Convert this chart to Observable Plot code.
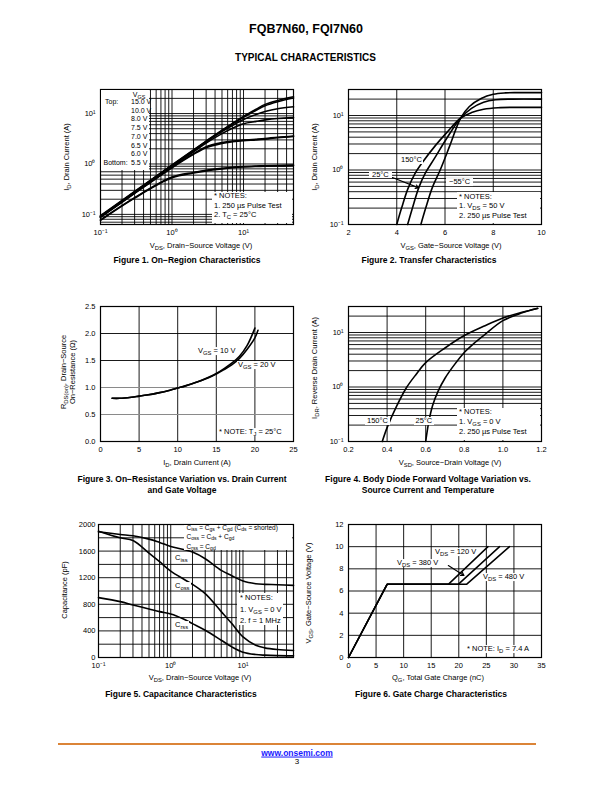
<!DOCTYPE html>
<html><head><meta charset="utf-8">
<script src="https://cdn.jsdelivr.net/npm/d3@7"></script>
<script src="https://cdn.jsdelivr.net/npm/@observablehq/plot@0.6"></script>
<style>
html,body{margin:0;padding:0;background:#fff;}
#page{position:relative;width:612px;height:792px;overflow:hidden;font-family:"Liberation Sans",Arial,Helvetica,sans-serif;color:#000;}
.t{position:absolute;white-space:nowrap;line-height:1.05;}
.t sub{font-size:0.78em;vertical-align:-0.28em;line-height:0;}
.box{position:absolute;background:#fff;}
</style></head>
<body><div id="page"></div>
<script>
// ---------------- DATA ----------------
// Figure 1: On-Region Characteristics (VDS in V, ID in A)
const fig1Vds = [0.1,0.3,1,2,3,5,7,10,15,20,30,50];
const fig1Legend = ["15.0 V","10.0 V","8.0 V","7.5 V","7.0 V","6.5 V","6.0 V","5.5 V"];
const fig1Id15 = [0.094,0.285,0.96,1.9,2.85,4.7,6.4,8.8,12.2,15.2,18.2,21.5];
const fig1Id10 = [0.092,0.28,0.94,1.87,2.8,4.6,6.2,8.4,11.6,14.3,17.2,20.3];
const fig1Id8  = [0.09,0.275,0.92,1.82,2.75,4.4,5.8,7.6,9.6,11.0,12.5,13.6];
const fig1Id75 = [0.09,0.27,0.9,1.75,2.6,4.0,5.1,6.3,7.0,7.5,8.0,8.3];
const fig1Id7  = [0.088,0.265,0.86,1.6,2.2,2.65,2.85,2.98,3.1,3.2,3.4,3.6];
const fig1Id65 = [0.087,0.26,0.84,1.55,2.1,2.55,2.75,2.9,3.0,3.1,3.3,3.5];
const fig1Id6  = [0.078,0.215,0.55,0.68,0.75,0.82,0.86,0.89,0.91,0.92,0.93,0.95];
const fig1Id55 = [0.076,0.21,0.53,0.66,0.73,0.8,0.84,0.87,0.89,0.9,0.91,0.93];

// Figure 2: Transfer Characteristics (VGS in V, ID in A)
const fig2Vgs150 = [4.0,4.2,4.46,4.75,5.1,5.6,6.1,6.65,7.1,7.6,8.2,9,10];
const fig2Id150  = [0.1,0.2,0.45,0.85,1.45,2.8,5.0,9.0,11.3,13,13.9,14.1,14.1];
const fig2Vgs25  = [4.45,4.65,4.91,5.2,5.55,6.1,6.65,7.1,7.6,8.1,8.8,10];
const fig2Id25   = [0.1,0.2,0.47,0.9,1.6,4.0,9.0,13.5,17.5,19.5,20,20];
const fig2VgsM55 = [5.0,5.2,5.47,5.8,6.2,6.65,7.0,7.5,8.0,8.5,9,10];
const fig2IdM55  = [0.1,0.2,0.47,1.0,2.8,9.0,14.5,20.5,24.5,26,26.3,26.3];

// Figure 3: On-Resistance vs Drain Current (ID in A, RDS(on) in ohm)
const fig3Id10  = [1.5,2.5,4,5,6,7.5,9,10,11,12.5,14,15,16,17,18,19,20];
const fig3R10   = [0.80,0.80,0.82,0.84,0.86,0.90,0.95,0.99,1.03,1.10,1.19,1.26,1.35,1.45,1.58,1.78,2.1];
const fig3Id20  = [1.5,2.5,4,5,6,7.5,9,10,11,12.5,14,15,16,17,18,19,20,20.4];
const fig3R20   = [0.80,0.80,0.82,0.84,0.86,0.90,0.95,0.99,1.03,1.10,1.18,1.25,1.33,1.42,1.54,1.71,1.92,2.06];

// Figure 4: Body Diode Forward Voltage (VSD in V, IDR in A)
const fig4Vsd150 = [0.375,0.4,0.45,0.5,0.55,0.6,0.7,0.8,0.9,1.0,1.1,1.18];
const fig4Idr150 = [0.1,0.18,0.45,0.97,1.7,2.8,5.2,8.8,13,18.5,23.5,27.6];
const fig4Vsd25  = [0.6,0.615,0.635,0.665,0.7,0.75,0.8,0.85,0.9,1.0,1.1,1.18];
const fig4Idr25  = [0.1,0.22,0.45,0.85,1.45,2.6,4.3,6.3,8.8,16.5,23,27.8];

// Figure 5: Capacitance (VDS in V, C in pF)
const fig5Vds  = [0.1,0.2,0.3,0.5,0.7,1,1.5,2,3,5,7,10,15,20,30,50];
const fig5Ciss = [1890,1850,1830,1780,1730,1670,1625,1585,1485,1310,1230,1150,1110,1100,1095,1085];
const fig5Coss = [1900,1800,1760,1570,1440,1300,1180,1100,960,690,510,310,185,145,120,105];
const fig5Crss = [900,840,790,730,690,655,580,510,410,260,160,80,45,35,28,25];

// Figure 6: Gate Charge (QG in nC, VGS in V)
const fig6Q120 = [0,7,18.1,25.3];
const fig6Q380 = [0,7,19.9,27.4];
const fig6Q480 = [0,7,21.4,29.2];
const fig6Vgs  = [0,6.6,6.6,10];

// annotation arrows (data coordinates)
const fig2Arrow = [{x1:3.82,y1:0.73,x2:4.91,y2:0.47}];
const fig6Arrow = [{x1:18.1,y1:8.3,x2:20.95,y2:7.4}];

// ---------------- HELPERS ----------------
const page = document.getElementById("page");
const FONT = '"Liberation Sans", Arial, Helvetica, sans-serif';
const sup = {"-1":"\u207B\u00B9","0":"\u2070","1":"\u00B9"};
const fmtLog = d => "10" + sup[String(Math.round(Math.log10(d)))];
function logGrid(lo, hi){
  const out=[];
  for(let e=-3;e<=3;e++) for(let m=1;m<=9;m++){
    const v=+(m*Math.pow(10,e)).toPrecision(3);
    if(v>=lo*0.999 && v<=hi*1.001) out.push(v);
  }
  return out;
}
const zip = (xs, ys, extra={}) => xs.map((x,i)=>({x, y:ys[i], ...extra}));

function chart(area, xScale, yScale, marks){
  const mL=36,mR=8,mT=6,mB=18;
  const svg = Plot.plot({
    width: area.x1-area.x0+mL+mR,
    height: area.y1-area.y0+mT+mB,
    marginLeft:mL, marginRight:mR, marginTop:mT, marginBottom:mB,
    x: {...xScale, label:null},
    y: {...yScale, label:null},
    style: `font: 7.5px ${FONT}; overflow: visible; background: transparent; color:#000;`,
    marks
  });
  svg.style.position="absolute";
  svg.style.left=(area.x0-mL)+"px";
  svg.style.top=(area.y0-mT)+"px";
  page.appendChild(svg);
}
function txt(html, x, y, o={}){
  const d=document.createElement("div");
  d.className="t";
  d.innerHTML=html;
  const s=d.style;
  s.left=x+"px"; s.top=y+"px";
  s.fontSize=(o.size||7.5)+"px";
  if(o.bold) s.fontWeight="bold";
  if(o.color) s.color=o.color;
  if(o.bg){ s.background="#fff"; s.padding=o.pad||"0 1px"; }
  if(o.align) s.textAlign=o.align;
  const tx=o.anchor==="middle"?"-50%":o.anchor==="end"?"-100%":"0";
  s.transform=`translate(${tx},-50%)`+(o.rotate?" rotate(-90deg)":"");
  if(o.style) Object.assign(s,o.style);
  page.appendChild(d);
  return d;
}
function box(x0,y0,x1,y1){
  const d=document.createElement("div");
  d.className="box";
  Object.assign(d.style,{left:x0+"px",top:y0+"px",width:(x1-x0)+"px",height:(y1-y0)+"px"});
  page.appendChild(d);
}
const gridStyle = {stroke:"#000", strokeWidth:0.9};
const lineStyle = {x:"x", y:"y", stroke:"#000", strokeWidth:1.6, curve:"catmull-rom"};
const axisOpts = (fmt, pad=5) => ({tickSize:0, tickPadding:pad, tickFormat:fmt, label:null});

// ---------------- HEADER ----------------
txt("FQB7N60, FQI7N60", 306, 30, {size:12.5, bold:true, anchor:"middle"});
txt("TYPICAL CHARACTERISTICS", 305.5, 57.5, {size:10, bold:true, anchor:"middle"});

// ---------------- FIGURE 1 ----------------
{
  const A={x0:100,x1:293,y0:89,y1:224};
  const series=[fig1Id15,fig1Id10,fig1Id8,fig1Id75,fig1Id7,fig1Id65,fig1Id6,fig1Id55];
  chart(A,{type:"log",domain:[0.1,50]},{type:"log",domain:[0.063,30]},[
    Plot.ruleX(logGrid(0.2,40),{...gridStyle}),
    Plot.ruleY(logGrid(0.07,20),{...gridStyle}),
    ...series.map((s,i)=>Plot.line(zip(fig1Vds,s,{v:fig1Legend[i]}),{...lineStyle})),
    Plot.frame({stroke:"#000",strokeWidth:1.2}),
    Plot.axisX([0.1,1,10],axisOpts(fmtLog,5)),
    Plot.axisY([0.1,1,10],axisOpts(fmtLog,5))
  ]);
  box(100.6,89.6,149,170);
  txt("V<sub>GS</sub>",139,95,{size:7,anchor:"middle"});
  txt("Top:",105,102,{size:7});
  fig1Legend.forEach((l,i)=>txt(l,131,102+i*8.72,{size:7}));
  txt("Bottom:",103.5,163,{size:7});
  box(211.5,191.5,292.4,223.4);
  txt("* NOTES:",214,196,{});
  txt("1. 250 \u00B5s Pulse Test",214,205.6,{});
  txt("2. T<sub>C</sub> = 25\u00B0C",214,215.2,{});
  txt("I<sub>D</sub>, Drain Current (A)",67,157,{anchor:"middle",rotate:true});
  txt("V<sub>DS</sub>, Drain\u2212Source Voltage (V)",201,245.7,{anchor:"middle"});
  txt("Figure 1. On\u2212Region Characteristics",187,260,{size:8.5,bold:true,anchor:"middle"});
}

// ---------------- FIGURE 2 ----------------
{
  const A={x0:348,x1:541,y0:89,y1:224};
  chart(A,{type:"linear",domain:[2,10]},{type:"log",domain:[0.1,30]},[
    Plot.ruleX([4,6,8],{...gridStyle}),
    Plot.ruleY(logGrid(0.2,20),{...gridStyle}),
    Plot.line(zip(fig2Vgs150,fig2Id150),{...lineStyle}),
    Plot.line(zip(fig2Vgs25,fig2Id25),{...lineStyle}),
    Plot.line(zip(fig2VgsM55,fig2IdM55),{...lineStyle}),
    Plot.arrow(fig2Arrow,{x1:"x1",y1:"y1",x2:"x2",y2:"y2",stroke:"#000",strokeWidth:1.1,headLength:5}),
    Plot.frame({stroke:"#000",strokeWidth:1.2}),
    Plot.axisX([2,4,6,8,10],axisOpts(d3.format("d"),5)),
    Plot.axisY([0.1,1,10],axisOpts(fmtLog,5))
  ]);
  box(456.5,191.5,540.4,223.4);
  txt("* NOTES:",459,196.5,{});
  txt("1. V<sub>DS</sub> = 50 V",459,205.7,{});
  txt("2. 250 \u00B5s Pulse Test",459,215.5,{});
  txt("150\u00B0C",400,160,{bg:true});
  txt("25\u00B0C",369,174.5,{bg:true,pad:"0 3px"});
  txt("\u221255\u00B0C",446,182.3,{bg:true,pad:"0 3px"});
  txt("I<sub>D</sub>, Drain Current (A)",315,157,{anchor:"middle",rotate:true});
  txt("V<sub>GS</sub>, Gate\u2212Source Voltage (V)",451,245.7,{anchor:"middle"});
  txt("Figure 2. Transfer Characteristics",429,260,{size:8.5,bold:true,anchor:"middle"});
}

// ---------------- FIGURE 3 ----------------
{
  const A={x0:100,x1:293,y0:306,y1:441};
  chart(A,{type:"linear",domain:[0,25]},{type:"linear",domain:[0,2.5]},[
    Plot.ruleX([5,10,15,20],{...gridStyle}),
    Plot.ruleY([1.5,2.0],{...gridStyle}),
    Plot.ruleY([0.5,1.0],{stroke:"#8a8a8a",strokeWidth:1.2}),
    Plot.line(zip(fig3Id10,fig3R10),{...lineStyle}),
    Plot.line(zip(fig3Id20,fig3R20),{...lineStyle}),
    Plot.frame({stroke:"#000",strokeWidth:1.2}),
    Plot.axisX([0,5,10,15,20,25],axisOpts(d3.format("d"),5)),
    Plot.axisY([0,0.5,1,1.5,2,2.5],axisOpts(d3.format(".1f"),5))
  ]);
  txt("V<sub>GS</sub> = 10 V",197,351,{bg:true});
  txt("V<sub>GS</sub> = 20 V",237,365,{bg:true});
  txt("* NOTE: T<sub>J</sub> = 25\u00B0C",218,432.3,{bg:true});
  txt("R<sub>DS(on)</sub>, Drain\u2212Source<br>On\u2212Resistance (\u03A9)",69,372,{anchor:"middle",rotate:true,align:"center",style:{lineHeight:"1.15"}});
  txt("I<sub>D</sub>, Drain Current (A)",197,463,{anchor:"middle"});
  txt("Figure 3. On\u2212Resistance Variation vs. Drain Current",182,478.5,{size:8.5,bold:true,anchor:"middle"});
  txt("and Gate Voltage",182,489.5,{size:8.5,bold:true,anchor:"middle"});
}

// ---------------- FIGURE 4 ----------------
{
  const A={x0:348,x1:541,y0:306,y1:441};
  chart(A,{type:"linear",domain:[0.2,1.2]},{type:"log",domain:[0.1,30]},[
    Plot.ruleX([0.4,0.6,0.8,1.0],{...gridStyle}),
    Plot.ruleY(logGrid(0.2,20),{...gridStyle}),
    Plot.line(zip(fig4Vsd150,fig4Idr150),{...lineStyle}),
    Plot.line(zip(fig4Vsd25,fig4Idr25),{...lineStyle}),
    Plot.frame({stroke:"#000",strokeWidth:1.2}),
    Plot.axisX([0.2,0.4,0.6,0.8,1.0,1.2],axisOpts(d3.format(".1f"),5)),
    Plot.axisY([0.1,1,10],axisOpts(fmtLog,5))
  ]);
  box(456.5,407.5,540.4,440.4);
  txt("* NOTES:",459,412.3,{});
  txt("1. V<sub>GS</sub> = 0 V",459,421.7,{});
  txt("2. 250 \u00B5s Pulse Test",459,431.7,{});
  txt("150\u00B0C",365,420.7,{bg:true,pad:"0 2px"});
  txt("25\u00B0C",413.5,420.7,{bg:true,pad:"0 2px"});
  txt("I<sub>DR</sub>, Reverse Drain Current (A)",315,368,{anchor:"middle",rotate:true});
  txt("V<sub>SD</sub>, Source\u2212Drain Voltage (V)",450,463,{anchor:"middle"});
  txt("Figure 4. Body Diode Forward Voltage Variation vs.",428,478.5,{size:8.5,bold:true,anchor:"middle"});
  txt("Source Current and Temperature",428,489.5,{size:8.5,bold:true,anchor:"middle"});
}

// ---------------- FIGURE 5 ----------------
{
  const A={x0:98,x1:293,y0:524,y1:657};
  chart(A,{type:"log",domain:[0.1,50]},{type:"linear",domain:[0,2000]},[
    Plot.ruleX(logGrid(0.2,40),{...gridStyle}),
    Plot.ruleY(d3.range(200,2000,200),{...gridStyle}),
    Plot.line(zip(fig5Vds,fig5Ciss),{...lineStyle}),
    Plot.line(zip(fig5Vds,fig5Coss),{...lineStyle}),
    Plot.line(zip(fig5Vds,fig5Crss),{...lineStyle}),
    Plot.frame({stroke:"#000",strokeWidth:1.2}),
    Plot.axisX([0.1,1,10],axisOpts(fmtLog,5)),
    Plot.axisY([0,400,800,1200,1600,2000],axisOpts(d3.format("d"),3))
  ]);
  box(184,524.6,292.4,550.5);
  txt("C<sub>iss</sub> = C<sub>gs</sub> + C<sub>gd</sub> (C<sub>ds</sub> = shorted)",186.5,528.3,{size:6.5});
  txt("C<sub>oss</sub> = C<sub>ds</sub> + C<sub>gd</sub>",186.5,537.3,{size:6.5});
  txt("C<sub>rss</sub> = C<sub>gd</sub>",186.5,546.5,{size:6.5});
  box(237,593,283,625);
  txt("* NOTES:",240,598.3,{});
  txt("1. V<sub>GS</sub> = 0 V",240,610,{});
  txt("2. f = 1 MHz",240,620.5,{});
  txt("C<sub>iss</sub>",174,557.7,{bg:true});
  txt("C<sub>oss</sub>",174,586,{bg:true});
  txt("C<sub>rss</sub>",174,625,{bg:true});
  txt("Capacitance (pF)",65,590,{anchor:"middle",rotate:true});
  txt("V<sub>DS</sub>, Drain\u2212Source Voltage (V)",200,678,{anchor:"middle"});
  txt("Figure 5. Capacitance Characteristics",181,693.5,{size:8.5,bold:true,anchor:"middle"});
}

// ---------------- FIGURE 6 ----------------
{
  const A={x0:348,x1:541,y0:524,y1:657};
  chart(A,{type:"linear",domain:[0,35]},{type:"linear",domain:[0,12]},[
    Plot.ruleX([5,10,15,20,25,30],{...gridStyle}),
    Plot.ruleY([2,4,6,8,10],{...gridStyle}),
    Plot.line(zip(fig6Q120,fig6Vgs),{x:"x",y:"y",stroke:"#000",strokeWidth:1.5}),
    Plot.line(zip(fig6Q380,fig6Vgs),{x:"x",y:"y",stroke:"#000",strokeWidth:1.5}),
    Plot.line(zip(fig6Q480,fig6Vgs),{x:"x",y:"y",stroke:"#000",strokeWidth:1.5}),
    Plot.arrow(fig6Arrow,{x1:"x1",y1:"y1",x2:"x2",y2:"y2",stroke:"#000",strokeWidth:1.1,headLength:5}),
    Plot.frame({stroke:"#000",strokeWidth:1.2}),
    Plot.axisX([0,5,10,15,20,25,30,35],axisOpts(d3.format("d"),5)),
    Plot.axisY([0,2,4,6,8,10,12],axisOpts(d3.format("d"),5))
  ]);
  txt("V<sub>DS</sub> = 120 V",434,552,{bg:true});
  txt("V<sub>DS</sub> = 380 V",396,563,{bg:true});
  txt("V<sub>DS</sub> = 480 V",482,577,{bg:true});
  txt("* NOTE: I<sub>D</sub> = 7.4 A",466,649.3,{bg:true});
  txt("V<sub>GS</sub>, Gate\u2212Source Voltage (V)",309,593,{anchor:"middle",rotate:true});
  txt("Q<sub>G</sub>, Total Gate Charge (nC)",438,678,{anchor:"middle"});
  txt("Figure 6. Gate Charge Characteristics",431,693.5,{size:8.5,bold:true,anchor:"middle"});
}

// ---------------- FOOTER ----------------
{
  const d=document.createElement("div");
  Object.assign(d.style,{position:"absolute",left:"58px",top:"743px",width:"478px",height:"2px",background:"#db8437"});
  page.appendChild(d);
  txt('<span style="text-decoration:underline">www.onsemi.com</span>',297,752.5,{size:8.5,bold:true,anchor:"middle",color:"#1a1aff"});
  txt("3",297,761.5,{size:8,anchor:"middle"});
}
</script>
</body></html>
